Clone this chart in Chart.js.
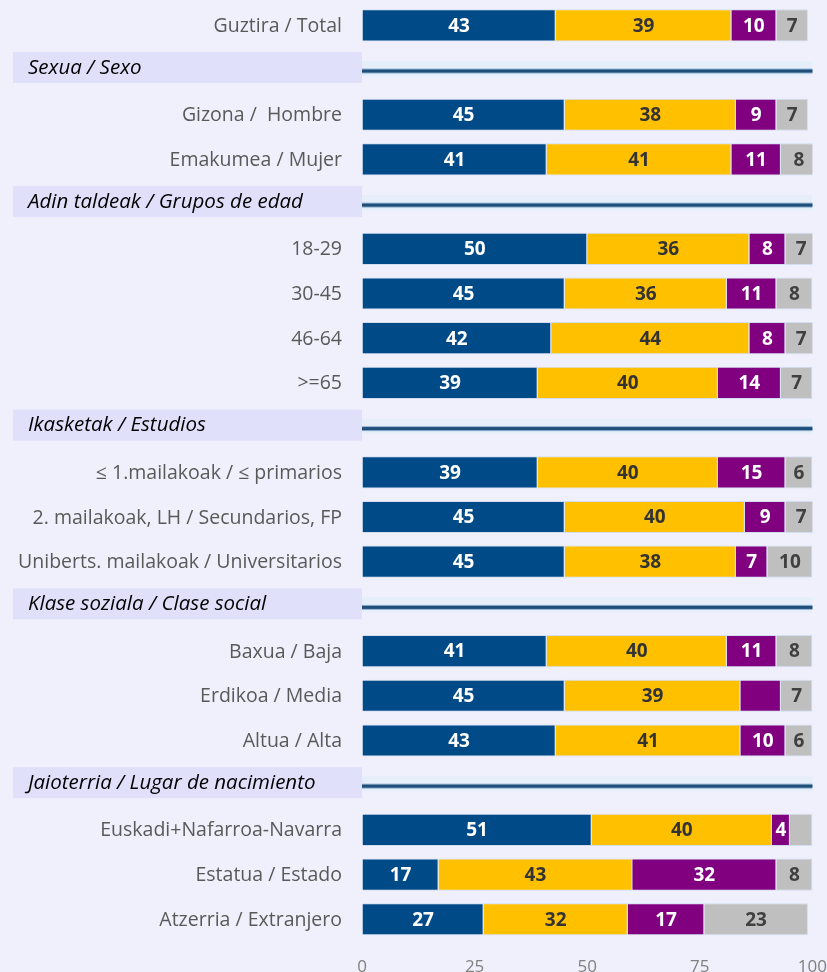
<!DOCTYPE html>
<html>
<head>
<meta charset="utf-8">
<script src="https://cdn.jsdelivr.net/npm/chart.js@4.4.1/dist/chart.umd.min.js"></script>
<style>
  html, body { margin: 0; padding: 0; background: #f0f0fd; overflow: hidden; }
  #wrap { width: 827px; height: 977px; }
</style>
</head>
<body>
<div id="wrap"><canvas id="chart" width="827" height="977"></canvas></div>
<script>
// Rows top to bottom; section titles are listed in `sections`
const categories = [
    'Guztira / Total',
    'Sexua / Sexo',
    'Gizona /  Hombre', 'Emakumea / Mujer',
    'Adin taldeak / Grupos de edad',
    '18-29', '30-45', '46-64', '>=65',
    'Ikasketak / Estudios',
    '≤ 1.mailakoak / ≤ primarios', '2. mailakoak, LH / Secundarios, FP', 'Uniberts. mailakoak / Universitarios',
    'Klase soziala / Clase social',
    'Baxua / Baja', 'Erdikoa / Media', 'Altua / Alta',
    'Jaioterria / Lugar de nacimiento',
    'Euskadi+Nafarroa-Navarra', 'Estatua / Estado', 'Atzerria / Extranjero'
];
const sections = [
    'Sexua / Sexo', 'Adin taldeak / Grupos de edad', 'Ikasketak / Estudios',
    'Klase soziala / Clase social', 'Jaioterria / Lugar de nacimiento'
];

const blueVals   = [43, null, 45, 41, null, 50, 45, 42, 39, null, 39, 45, 45, null, 41, 45, 43, null, 51, 17, 27];
const yellowVals = [39, null, 38, 41, null, 36, 36, 44, 40, null, 40, 40, 38, null, 40, 39, 41, null, 40, 43, 32];
const purpleVals = [10, null, 9, 11, null, 8, 11, 8, 14, null, 15, 9, 7, null, 11, 9, 10, null, 4, 32, 17];
const grayVals   = [7, null, 7, 8, null, 7, 8, 7, 7, null, 6, 7, 10, null, 8, 7, 6, null, 5, 8, 23];

// segments printed without a number
const unlabeled = {
    purple: ['Erdikoa / Media'],
    gray: ['Euskadi+Nafarroa-Navarra']
};

const xTicks = [0, 25, 50, 75, 100];

const FONT = "'Open Sans', sans-serif";

// Row names on the left, section titles in a shaded box with a rule across the plot
const rowLabels = {
    id: 'rowLabels',
    beforeDatasetsDraw(chart) {
        const { ctx, chartArea, scales } = chart;
        ctx.save();
        ctx.textBaseline = 'middle';
        categories.forEach((label, i) => {
            const y = scales.y.getPixelForValue(i);
            if (!sections.includes(label)) {
                ctx.fillStyle = '#595959';
                ctx.font = "19.5px " + FONT;
                ctx.textAlign = 'right';
                ctx.fillText(label, chartArea.left - 20, y + 1);
                return;
            }
            ctx.fillStyle = '#e0e0fb';
            ctx.fillRect(13, y - 18, chartArea.left - 13, 31);
            ctx.fillStyle = '#e6eef9';
            ctx.fillRect(chartArea.left, y - 9, chartArea.width, 15);
            ctx.fillStyle = '#8fb0d0';
            ctx.fillRect(chartArea.left, y - 1.5, chartArea.width, 5);
            ctx.fillStyle = '#1f4e79';
            ctx.fillRect(chartArea.left, y - 0.5, chartArea.width, 3);
            ctx.fillStyle = '#000000';
            ctx.font = "italic 20.5px " + FONT;
            ctx.textAlign = 'left';
            ctx.fillText(label, 28, y - 2);
        });
        ctx.restore();
    }
};

// Value printed in the middle of each segment
const valueLabels = {
    id: 'valueLabels',
    afterDatasetsDraw(chart) {
        const { ctx } = chart;
        ctx.save();
        ctx.font = "bold 19px " + FONT;
        ctx.textAlign = 'center';
        ctx.textBaseline = 'middle';
        chart.data.datasets.forEach((ds, di) => {
            const meta = chart.getDatasetMeta(di);
            const skip = unlabeled[ds.label] || [];
            meta.data.forEach((bar, i) => {
                const v = ds.data[i];
                if (v == null || skip.includes(categories[i])) return;
                ctx.fillStyle = ds.textColor;
                ctx.fillText(v, (bar.x + bar.base) / 2, bar.y + 1);
            });
        });
        ctx.restore();
    }
};

new Chart(document.getElementById('chart'), {
    type: 'bar',
    data: {
        labels: categories,
        datasets: [
            { label: 'blue', data: blueVals, backgroundColor: '#004a87', textColor: '#ffffff' },
            { label: 'yellow', data: yellowVals, backgroundColor: '#ffc000', textColor: '#333333' },
            { label: 'purple', data: purpleVals, backgroundColor: '#800080', textColor: '#ffffff' },
            { label: 'gray', data: grayVals, backgroundColor: '#bfbfbf', textColor: '#404040' }
        ]
    },
    options: {
        indexAxis: 'y',
        responsive: false,
        animation: false,
        datasets: {
            bar: {
                categoryPercentage: 1,
                barPercentage: 0.72,
                borderWidth: 1,
                borderColor: 'rgba(185, 205, 232, 0.55)'
            }
        },
        layout: { padding: { top: 3, right: 14, left: 0, bottom: 0 } },
        plugins: {
            legend: { display: false },
            tooltip: { enabled: false }
        },
        scales: {
            x: {
                stacked: true,
                min: 0,
                max: 100,
                afterBuildTicks(scale) {
                    scale.ticks = xTicks.map(v => ({ value: v }));
                },
                grid: { display: true, drawOnChartArea: false, drawTicks: true, tickLength: 15, color: 'rgba(0,0,0,0)' },
                border: { display: false },
                ticks: { color: '#808080', font: { family: FONT, size: 17 }, padding: 0, maxRotation: 0 }
            },
            y: {
                stacked: true,
                afterFit(scale) { scale.width = 362; },
                grid: { display: false, drawTicks: false },
                border: { display: false },
                ticks: { display: false }
            }
        }
    },
    plugins: [rowLabels, valueLabels]
});
</script>
</body>
</html>
